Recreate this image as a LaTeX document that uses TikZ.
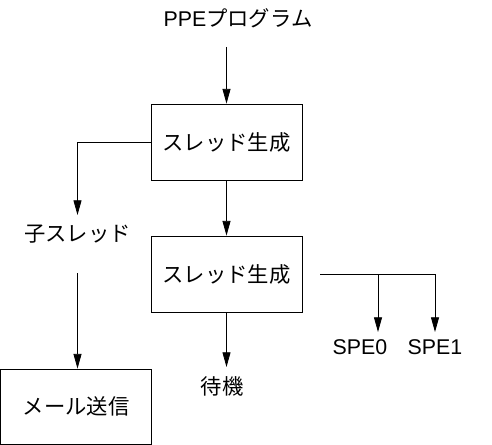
\documentclass[tikz,border=0pt]{standalone}
\usepackage{fontspec}
\setmainfont{Liberation Sans}
\newfontfamily\jpfont{Noto Sans CJK JP}
\usetikzlibrary{arrows.meta,positioning}

\begin{document}
\begin{tikzpicture}[x=0.75pt,y=-0.75pt,line width=0.6pt,
    font=\fontsize{16}{19}\selectfont,
    box/.style={draw,minimum width=113.25pt,minimum height=57pt,inner sep=0pt},
    lbl/.style={inner sep=0pt},
    >={Triangle[length=11pt,width=6pt]}]
    \useasboundingbox (0,0) rectangle (492,445);
    % labels and boxes
    \node[lbl] (ppe) at (238,18) {PPE{\jpfont プログラム}};
    \node[box] (gen1) at (226.5,142) {\jpfont スレッド生成};
    \node[box] (gen2) at (226.5,274) {\jpfont スレッド生成};
    \node[lbl] (child) at (77.5,234) {\jpfont 子スレッド};
    \node[box,minimum height=56.25pt] (mail) at (76,406.5) {\jpfont メール送信};
    \node[lbl] (wait) at (222,386) {\jpfont 待機};
    \node[lbl] (spe0) at (360,347) {SPE0};
    \node[lbl] (spe1) at (435,347) {SPE1};
    % free ends
    \coordinate (in) at (226.5,47);
    \coordinate (childin) at (77.5,215);
    \coordinate (childout) at (77.5,273);
    \coordinate (waitin) at (226.5,367);
    \coordinate (fork) at (320,274);
    \coordinate (spe0in) at (378,332);
    \coordinate (spe1in) at (435,332);
    % connectors
    \draw[->] (in) -- (gen1);
    \draw[->] (gen1) -- (gen2);
    \draw[->] (gen1.west) -| (childin);
    \draw[->] (childout) -- (childout |- mail.north);
    \draw[->] (gen2) -- (waitin);
    \draw[->] (fork) -| (spe1in);
    \draw[->] (spe0in |- fork) -- (spe0in);
\end{tikzpicture}
\end{document}
